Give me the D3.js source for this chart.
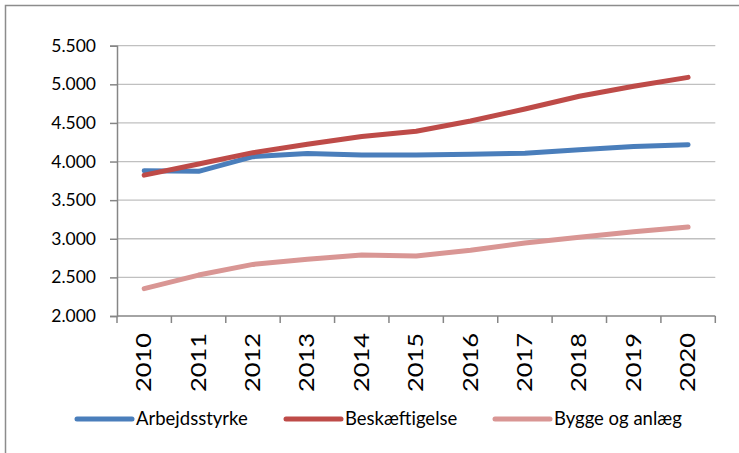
<!DOCTYPE html>
<html>
<head>
<meta charset="utf-8">
<script src="https://cdn.jsdelivr.net/npm/d3@7"></script>
<style>
  html, body { margin: 0; padding: 0; background: #fff; }
  svg { display: block; }
  text { font-family: Lato, "Open Sans", sans-serif; fill: #000; }
</style>
</head>
<body>
<svg id="chart" width="739" height="453"></svg>
<script>
// Labour force, employment and construction employment, 2010-2020
const years = [2010, 2011, 2012, 2013, 2014, 2015, 2016, 2017, 2018, 2019, 2020];
const arbejdsstyrke = [3880, 3873, 4063, 4105, 4086, 4086, 4095, 4108, 4152, 4194, 4217];
const beskaeftigelse = [3824, 3968, 4115, 4224, 4323, 4393, 4525, 4680, 4845, 4975, 5090];
const byggeOgAnlaeg = [2355, 2530, 2668, 2735, 2789, 2777, 2852, 2945, 3020, 3090, 3152];
const yTicks = [2000, 2500, 3000, 3500, 4000, 4500, 5000, 5500];
const seriesNames = ["Arbejdsstyrke", "Beskæftigelse", "Bygge og anlæg"];
const seriesColors = ["#4a7ebb", "#be4b48", "#d99694"];

const series = [arbejdsstyrke, beskaeftigelse, byggeOgAnlaeg].map((vals, i) => ({
  name: seriesNames[i], color: seriesColors[i], values: vals
}));

const svg = d3.select("#chart");
const plot = { left: 117, right: 715.3, top: 45.7, bottom: 316 };

// Outer chart frame
svg.append("rect")
  .attr("x", 5.5).attr("y", 5.5)
  .attr("width", 900).attr("height", 900)
  .attr("fill", "none").attr("stroke", "#8c8c8c").attr("stroke-width", 1.5);

const x = d3.scaleBand().domain(years).range([plot.left, plot.right]).padding(0);
const y = d3.scaleLinear().domain([2000, 5500]).range([plot.bottom, plot.top]);
const cx = d => x(d) + x.bandwidth() / 2;

const da = d3.formatLocale({ decimal: ",", thousands: ".", grouping: [3], currency: ["", " kr."] });
const fmt = da.format(",.3~f");

// Horizontal gridlines
svg.append("g").selectAll("line")
  .data(yTicks.filter(t => t > 2000))
  .join("line")
  .attr("x1", plot.left).attr("x2", plot.right)
  .attr("y1", d => y(d)).attr("y2", d => y(d))
  .attr("stroke", "#c0c0c0").attr("stroke-width", 1.3);

// Y axis
const yAxis = svg.append("g")
  .attr("transform", `translate(${plot.left},0)`)
  .call(d3.axisLeft(y).tickValues(yTicks).tickSize(7).tickPadding(14)
    .tickFormat(d => fmt(d).replace(",", ".")));
yAxis.select(".domain").attr("stroke", "#868686").attr("stroke-width", 1.5);
yAxis.selectAll(".tick line").attr("stroke", "#868686").attr("stroke-width", 1.5);
yAxis.selectAll(".tick text").attr("font-size", 17.5).attr("fill", "#000")
  .attr("font-family", "Lato, sans-serif");

// X axis line and tick marks at category boundaries
const xg = svg.append("g");
xg.append("line")
  .attr("x1", plot.left).attr("x2", plot.right)
  .attr("y1", plot.bottom).attr("y2", plot.bottom)
  .attr("stroke", "#868686").attr("stroke-width", 1.5);
const edges = years.map(d => x(d)).concat([x(years[years.length - 1]) + x.bandwidth()]);
xg.selectAll("line.tk").data(edges).join("line").attr("class", "tk")
  .attr("x1", d => d).attr("x2", d => d)
  .attr("y1", plot.bottom).attr("y2", plot.bottom + 7)
  .attr("stroke", "#868686").attr("stroke-width", 1.5);

// Rotated year labels
xg.selectAll("text").data(years).join("text")
  .attr("transform", d => `translate(${cx(d) + 7},${plot.bottom + 17}) rotate(-90)`)
  .attr("text-anchor", "end")
  .attr("font-size", 20.5)
  .attr("textLength", 59)
  .attr("lengthAdjust", "spacingAndGlyphs")
  .text(d => d);

// Series lines
const line = d3.line()
  .x((d, i) => cx(years[i]))
  .y(d => y(d));

svg.append("g").selectAll("path")
  .data(series)
  .join("path")
  .attr("d", s => line(s.values))
  .attr("fill", "none")
  .attr("stroke", s => s.color)
  .attr("stroke-width", 5)
  .attr("stroke-linecap", "round")
  .attr("stroke-linejoin", "round");

// Legend
const legendX = [77, 286, 495];
const legend = svg.append("g").selectAll("g")
  .data(series)
  .join("g")
  .attr("transform", (s, i) => `translate(${legendX[i]},419)`);
legend.append("line")
  .attr("x1", 0).attr("x2", 55).attr("y1", 0).attr("y2", 0)
  .attr("stroke", s => s.color).attr("stroke-width", 5)
  .attr("stroke-linecap", "round");
legend.append("text")
  .attr("x", 59).attr("y", 0).attr("dy", "0.35em")
  .attr("font-size", 18.5)
  .text(s => s.name);
</script>
</body>
</html>
